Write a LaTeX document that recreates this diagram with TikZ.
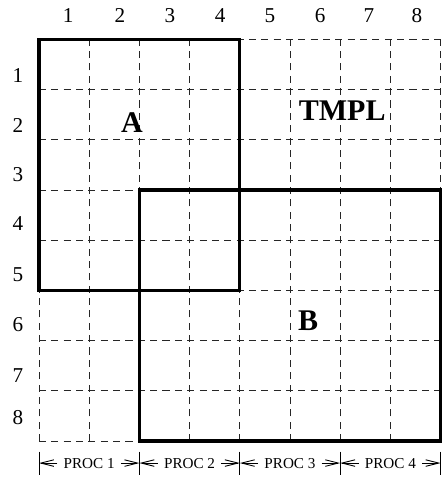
\documentclass[tikz,border=0pt]{standalone}
\usepackage{fontspec}
\setmainfont{Liberation Serif}
\usetikzlibrary{arrows.meta}

\begin{document}
\begin{tikzpicture}[
    cellgrid/.style={dash pattern=on 4pt off 3pt, line width=0.5pt, black!85},
    region/.style={line width=1.8pt},
    regionlabel/.style={font=\fontsize{17}{20}\selectfont\bfseries},
    numlabel/.style={font=\fontsize{12}{14}\selectfont},
    proclabel/.style={font=\fontsize{8.6}{10}\selectfont},
    span/.style={line width=0.5pt, -{Straight Barb[length=2.6mm,width=1.3mm]}}]
  \useasboundingbox (-0.777,-0.857) rectangle (8.048,8.785);
  \draw[cellgrid] (0,0) grid (8,8);
  \draw[region] (0,3) rectangle (4,8);
  \draw[region] (2,0) rectangle (8,5);
  \node[regionlabel] (A)    at (1.85,6.34) {A};
  \node[regionlabel] (B)    at (5.36,2.39) {B};
  \node[regionlabel] (tmpl) at (6.04,6.58) {TMPL};
  % column and row numbers
  \foreach \i/\x in {1/0.58,2/1.61,3/2.61,4/3.61,5/4.60,6/5.60,7/6.57,8/7.53}
    \node[numlabel] (col\i) at (\x,8.47) {\i};
  \foreach \i/\y in {1/7.29,2/6.29,3/5.30,4/4.34,5/3.31,6/2.31,7/1.31,8/0.46}
    \node[numlabel] (row\i) at (-0.42,\y) {\i};
  % processor spans
  \foreach \k in {0,...,4} {
    \coordinate (b\k) at (2*\k,-0.44);
    \draw[line width=0.5pt] ([yshift=0.23cm]b\k) -- ([yshift=-0.23cm]b\k);
  }
  \foreach \k [evaluate=\k as \l using int(\k-1)] in {1,...,4} {
    \node[proclabel] (proc\k) at (2*\k-1,-0.44) {PROC \k};
    \draw[span] (proc\k.west) -- (b\l);
    \draw[span] (proc\k.east) -- (b\k);
  }
\end{tikzpicture}
\end{document}
